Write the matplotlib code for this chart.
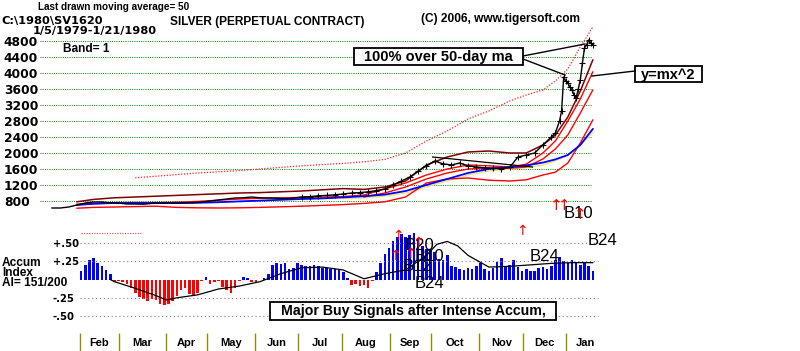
import matplotlib
matplotlib.use("Agg")
import matplotlib.pyplot as plt
from matplotlib.patches import Rectangle
from matplotlib.lines import Line2D

W, H = 800, 351
PX_DAY = 2.08      # pixels per trading day
X0 = 52            # pixel of day 0 (1/5/1979)

WORD = ["Liberation Sans", "DejaVu Sans"]
NUM = ["DejaVu Sans"]

# ---- price (cents): closes every 4 trading days, daily at the end ----
price_days = list(range(0, 237, 4)) + [240, 242, 244, 245, 246, 247, 248, 249, 250,
                                       251, 252, 253, 254, 255, 256, 257, 258, 259, 260]
price_close = [625, 625, 650, 700, 750, 775, 775, 750, 750, 725,
               725, 720, 740, 750, 745, 750, 750, 760, 775, 800,
               825, 850, 875, 880, 900, 880, 875, 870, 860, 870,
               900, 910, 930, 940, 955, 975, 1000, 1010, 1030, 1060,
               1100, 1200, 1300, 1400, 1550, 1675, 1800, 1730, 1700, 1750,
               1680, 1650, 1630, 1620, 1610, 1640, 1900, 1950, 2000, 2200,
               2400, 2500, 2800, 3050, 3900, 3800, 3750, 3650, 3575, 3450,
               3375, 3600, 3825, 4250, 4625, 4700, 4825, 4750, 4700]

# ---- moving average and bands ----
nan = float("nan")
band_days = [12, 20, 30, 40, 50, 60, 70, 80, 90, 100, 110, 120, 130, 140, 150,
             160, 170, 180, 190, 200, 210, 220, 228, 236, 242, 248, 254, 260]
ma50 = [700, 730, 750, 750, 750, 750, 755, 770, 790, 810, 830, 850, 865, 890, 920,
        960, 1050, 1200, 1350, 1500, 1600, 1650, 1690, 1760, 1840, 1950, 2200, 2600]
band_top = [780, 840, 880, 900, 920, 940, 960, 980, 1000, 1010, 1030, 1050, 1080, 1110, 1090,
            1150, 1300, 1700, 1900, 2025, 2050, 2000, 2000, 2200, 2450, 2900, 3550, 4325]
band_up = [720, 740, 760, 760, 760, 770, 790, 820, 850, 870, 880, 890, 900, 910, 950,
           1100, 1250, 1450, 1600, 1700, 1680, 1650, 1720, 2000, 2300, 2800, 3350, 4025]
band_mid = [nan] * 14 + [900, 1000, 1150, 1350, 1500, 1600, 1620, 1620, 1650, 1850,
                         2100, 2450, 3000, 3575]
band_low = [620, 640, 650, 660, 670, 640, 630, 625, 630, 640, 655, 670, 690, 710, 740,
            780, 900, 1250, 1350, 1375, 1320, 1300, 1330, 1450, 1520, 1750, 2250, 2825]
band_yel = [nan] * 13 + [860, 880, 920, 1000, 1150, 1300, 1450, 1550, 1600, 1630, 1700,
                         1800, 1950, 2200, 2500]
ma_x2 = [nan] * 3 + [1380, 1420, 1460, 1500, 1530, 1560, 1600, 1640, 1680, 1710, 1740,
                     1780, 1840, 2000, 2300, 2550, 2850, 3050, 3300, 3450, 3575, 3800,
                     4100, 4650, 5150]
trend_days = [183, 231]
trend_vals = [1900, 1650]

# ---- accumulation index, every 2 trading days ----
ai_days = list(range(14, 261, 2))
ai_vals = [0.12, 0.20, 0.27, 0.29, 0.22, 0.18, 0.13, 0.07, -0.04, -0.02,
           -0.03, -0.06, -0.12, -0.18, -0.24, -0.27, -0.29, -0.26, -0.28, -0.33,
           -0.35, -0.34, -0.29, -0.22, -0.14, -0.12, -0.20, -0.22, -0.18, -0.02,
           0.03, -0.06, -0.03, -0.02, -0.10, -0.15, -0.19, -0.12, -0.02, 0.04,
           0.02, -0.03, -0.03, -0.01, 0.02, 0.08, 0.20, 0.23, 0.21, 0.23,
           0.14, 0.16, 0.23, 0.20, 0.18, 0.19, 0.20, 0.18, 0.16, 0.16,
           0.15, 0.14, 0.13, 0.10, 0.02, -0.08, -0.06, -0.09, -0.08, -0.12,
           -0.02, 0.10, 0.22, 0.35, 0.43, 0.52, 0.58, 0.62, 0.58, 0.61,
           0.63, 0.55, 0.46, 0.42, 0.40, 0.37, 0.28, 0.26, 0.33, 0.18,
           0.17, 0.14, 0.13, 0.16, 0.15, 0.19, 0.23, 0.15, 0.12, 0.16,
           0.24, 0.29, 0.18, 0.20, 0.26, 0.17, 0.12, 0.14, 0.12, 0.11,
           0.16, 0.17, 0.15, 0.19, 0.26, 0.31, 0.25, 0.22, 0.27, 0.24,
           0.20, 0.22, 0.18, 0.12]
ai_ma_days = [28, 30, 40, 50, 55, 60, 70, 80, 90, 100, 110, 120, 130, 140, 150,
              160, 170, 180, 185, 190, 195, 200, 210, 220, 230, 240, 250, 260]
ai_ma = [0.00, -0.03, -0.12, -0.22, -0.28, -0.25, -0.21, -0.13, -0.09, -0.03, 0.08,
         0.16, 0.17, 0.13, 0.01, 0.08, 0.13, 0.33, 0.48, 0.52, 0.46, 0.33, 0.17,
         0.18, 0.20, 0.22, 0.23, 0.23]
ai_ref_days = [14, 43]
ai_ref_level = 0.635

months = ["Feb", "Mar", "Apr", "May", "Jun", "Jul", "Aug", "Sep", "Oct", "Nov", "Dec", "Jan"]
month_starts = [13.5, 32, 55, 74.5, 97.5, 118.5, 139.5, 162.5, 182, 205.5, 226.5, 247, 266]

upper_signals = [("B10", 252.9, 475)]
upper_arrows = [(242.3, 690), (246.2, 690), (253.8, 470)]
lower_signals = [("B20", 176.9, 0.471), ("B10", 181.7, 0.321), ("B12", 175.5, 0.184),
                 ("B24", 181.7, -0.048), ("B24", 237.0, 0.321), ("B24", 264.9, 0.526)]
lower_arrows = [(166.3, 0.594), (164.9, 0.321), (172.1, 0.348), (176.0, 0.50), (226.0, 0.66)]


def day(px):
    return (px - X0) / PX_DAY


def fx(px):
    return px / W


def fy(py):
    return 1 - py / H


fig = plt.figure(figsize=(W / 100, H / 100), dpi=100)
fig.patch.set_facecolor("white")

# ---------------- price panel ----------------
ax = fig.add_axes([fx(40), fy(215), 560 / W, 195 / H])
ax.set_xlim(day(40), day(600))
ax.set_ylim(800 + (201 - 215) * 25, 800 + (201 - 20) * 25)
for s in ax.spines.values():
    s.set_visible(False)
ax.set_xticks([])
levels = list(range(800, 4801, 400))
ax.set_yticks(levels)
ax.set_yticklabels([str(v) for v in levels], fontfamily=NUM, fontweight="bold", fontsize=8.8)
for lbl in ax.get_yticklabels():
    lbl.set_horizontalalignment("left")
ax.tick_params(axis="y", length=0, pad=26)
ax.hlines(levels, day(40), day(592), colors="#008000", linestyles=(0, (1, 1.3)), lw=0.7)

ax.plot(band_days, ma_x2, color="#ff2020", lw=0.9, ls=(0, (1, 1.3)))
ax.plot(band_days, band_yel, color="#f0e070", lw=0.9)
ax.plot(band_days, band_low, color="#ff0000", lw=1.0)
ax.plot(band_days, band_mid, color="#ff0000", lw=1.0)
ax.plot(band_days, band_up, color="#ff0000", lw=1.0)
ax.plot(band_days, ma50, color="#0000ff", lw=1.3)
ax.plot(band_days, band_top, color="#800000", lw=1.1)
ax.plot(trend_days, trend_vals, color="black", lw=0.9)
ax.plot(price_days, price_close, color="black", lw=1.0, marker="+", ms=4, mew=0.8,
        markevery=list(range(30, len(price_days))))

for txt, x, y in upper_signals:
    ax.text(x, y, txt, ha="center", va="center", fontsize=12, fontfamily=WORD, clip_on=False)
for x, y in upper_arrows:
    ax.text(x, y, "\u2191", ha="center", va="center", fontsize=11, color="red",
            fontfamily=NUM, clip_on=False)

# ---------------- accumulation index panel ----------------
AI_K = 0.25 / 18.3
ax2 = fig.add_axes([fx(80), fy(330), 520 / W, 105 / H])
ax2.set_xlim(day(80), day(600))
ax2.set_ylim((279.5 - 330) * AI_K, (279.5 - 225) * AI_K)
for s in ax2.spines.values():
    s.set_visible(False)
ax2.set_xticks([])
ai_levels = [0.5, 0.25, -0.25, -0.5]
ax2.set_yticks(ai_levels)
ax2.set_yticklabels(["+.50", "+.25", "-.25", "-.50"], fontfamily=NUM, fontweight="bold",
                    fontsize=7.2)
for lbl in ax2.get_yticklabels():
    lbl.set_horizontalalignment("left")
ax2.tick_params(axis="y", length=0, pad=19.5)
for lev, col in zip(ai_levels, ["#c06090", "#808080", "#c06090", "#808080"]):
    ax2.hlines(lev, day(80), day(598), colors=col, linestyles=(0, (1, 2.5)), lw=0.8)
ax2.hlines(ai_ref_level, ai_ref_days[0], ai_ref_days[1], colors="#ff4040",
           linestyles=(0, (1, 1.3)), lw=0.8)

bar_cols = ["#0000ff" if v >= 0 else "#ff0000" for v in ai_vals]
ax2.bar(ai_days, ai_vals, width=1.25, color=bar_cols, linewidth=0)
ax2.plot(ai_ma_days, ai_ma, color="black", lw=0.9)

for txt, x, y in lower_signals:
    ax2.text(x, y, txt, ha="center", va="center", fontsize=12, fontfamily=WORD, clip_on=False)
for x, y in lower_arrows:
    ax2.text(x, y, "\u2191", ha="center", va="center", fontsize=10, color="red",
             fontfamily=NUM, clip_on=False)

# ---------------- month row ----------------
ax3 = fig.add_axes([fx(40), 0, 560 / W, 18 / H])
ax3.set_xlim(day(40), day(600))
ax3.set_ylim(0, 1)
ax3.axis("off")
ax3.vlines(month_starts[:-1], 0, 1, colors="#909000", lw=1.0)
for i, m in enumerate(months):
    mid = (month_starts[i] + month_starts[i + 1]) / 2
    ax3.text(mid, 0.45, m, ha="center", va="center", fontsize=8, fontweight="bold",
             fontfamily=WORD)

# ---------------- header texts ----------------
hdr = dict(fontweight="bold", va="top", ha="left")
fig.text(fx(38), fy(2), "Last drawn moving average= 50", fontsize=7.2, fontfamily=WORD, **hdr)
fig.text(fx(1), fy(16), "C:\\1980\\SV1620", fontsize=8.2, fontfamily=NUM, **hdr)
fig.text(fx(170), fy(16), "SILVER (PERPETUAL CONTRACT)", fontsize=8.6, fontfamily=WORD, **hdr)
fig.text(fx(33), fy(26), "1/5/1979-1/21/1980", fontsize=8.2, fontfamily=NUM, **hdr)
fig.text(fx(421), fy(13), "(C) 2006, www.tigersoft.com", fontsize=8.6, fontfamily=WORD, **hdr)
fig.text(fx(63), fy(43), "Band= 1", fontsize=8.6, fontfamily=WORD, **hdr)
fig.text(fx(2), fy(257), "Accum", fontsize=8.6, fontfamily=WORD, **hdr)
fig.text(fx(2), fy(267), "Index", fontsize=8.6, fontfamily=WORD, **hdr)
fig.text(fx(2), fy(277), "AI= 151/200", fontsize=8.6, fontfamily=WORD, **hdr)


# ---------------- boxed notes ----------------
def box(x1, y1, x2, y2, text, size):
    fig.add_artist(Rectangle((fx(x1), fy(y2)), (x2 - x1) / W, (y2 - y1) / H,
                             transform=fig.transFigure, fill=True, facecolor="white",
                             edgecolor="black", lw=1.3))
    fig.text(fx((x1 + x2) / 2), fy((y1 + y2) / 2 + 0.5), text, ha="center", va="center",
             fontsize=size, fontweight="bold", fontfamily=WORD)


def leader(x1, y1, x2, y2):
    fig.add_artist(Line2D([fx(x1), fx(x2)], [fy(y1), fy(y2)], transform=fig.transFigure,
                          color="black", lw=1.0))


leader(523, 56, 585, 44)
leader(523, 59, 565, 75)
leader(635, 71, 592, 76)
box(354, 48, 523, 65, "100% over 50-day ma", 10.5)
box(635, 66, 702, 82, "y=mx^2", 10.5)
box(270, 302, 556, 320, "Major Buy Signals after Intense Accum,", 10.2)

fig.savefig("out.png", dpi=100, facecolor="white")
